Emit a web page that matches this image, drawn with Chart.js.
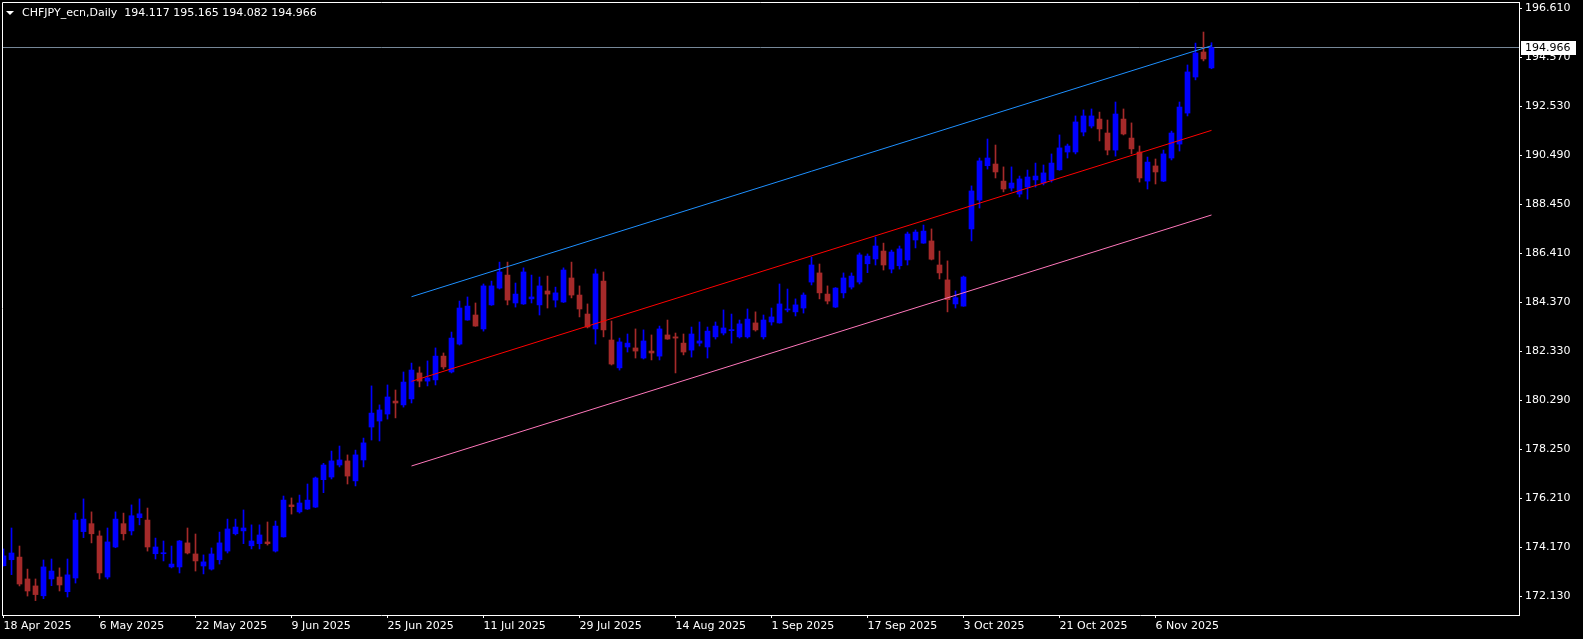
<!DOCTYPE html>
<html>
<head>
<meta charset="utf-8">
<script src="https://cdn.jsdelivr.net/npm/chart.js@4.4.1/dist/chart.umd.min.js"></script>
<style>
html, body { margin: 0; padding: 0; background: #000; overflow: hidden; }
canvas { display: block; }
</style>
</head>
<body>
<canvas id="chart" width="1583" height="639"></canvas>
<script>
// CHFJPY daily candles, 18 Apr 2025 .. 17 Nov 2025 (one entry per trading day)
const symbolTitle = 'CHFJPY_ecn,Daily';
const opens = [
  173.41, 173.66, 173.77, 172.86, 172.57, 172.16, 172.86, 172.94, 172.33, 172.90,
  174.83, 175.16, 174.65, 172.94, 174.19, 175.16, 174.86, 175.41, 175.31, 173.91,
  173.91, 173.36, 173.36, 174.36, 173.90, 173.40, 173.27, 173.66, 174.02, 174.74,
  174.86, 174.24, 174.33, 174.40, 174.02, 174.61, 175.94, 175.65, 175.77, 175.85,
  176.99, 177.10, 177.60, 177.77, 176.94, 177.81, 179.18, 179.43, 179.72, 180.26,
  180.10, 180.35, 181.43, 181.09, 181.14, 182.13, 181.47, 182.63, 183.63, 183.84,
  183.26, 184.26, 184.96, 185.50, 184.34, 184.30, 184.51, 184.26, 184.84, 184.46,
  184.38, 185.38, 184.67, 183.88, 183.26, 185.25, 182.80, 181.64, 182.51, 182.47,
  182.05, 182.34, 182.13, 183.01, 182.93, 182.67, 182.38, 182.67, 182.51, 182.93,
  183.09, 183.19, 182.93, 182.93, 183.51, 182.93, 183.55, 183.51, 184.05, 183.97,
  184.13, 185.21, 185.59, 184.71, 184.17, 184.76, 185.00, 185.21, 185.97, 186.17,
  186.50, 185.75, 185.89, 186.13, 186.96, 186.83, 186.92, 185.92, 185.30, 184.30,
  184.21, 187.42, 188.62, 190.05, 190.12, 189.41, 189.12, 188.87, 189.16, 189.46,
  189.33, 189.46, 189.88, 190.62, 190.62, 191.45, 191.70, 191.99, 191.41, 190.70,
  191.99, 191.20, 190.62, 189.41, 190.04, 189.41, 190.37, 190.95, 192.24, 193.74,
  194.78, 194.117
];
const highs = [
  174.11, 174.98, 174.23, 173.27, 172.86, 173.65, 173.69, 173.32, 173.69, 175.60,
  176.19, 175.65, 174.86, 174.98, 175.65, 175.60, 175.94, 176.19, 175.81, 174.56,
  174.44, 174.23, 174.46, 174.98, 174.73, 173.86, 174.15, 174.81, 175.35, 175.35,
  175.73, 175.11, 175.11, 175.23, 175.27, 176.31, 176.23, 176.35, 176.81, 177.10,
  177.67, 178.18, 178.39, 178.02, 178.22, 178.72, 180.89, 180.10, 180.93, 180.72,
  181.47, 181.84, 181.68, 181.93, 182.47, 182.26, 183.13, 184.42, 184.59, 184.34,
  185.13, 185.25, 186.04, 186.04, 185.17, 185.80, 185.50, 185.42, 185.46, 185.00,
  185.80, 186.04, 185.05, 184.30, 185.75, 185.63, 183.59, 182.88, 183.05, 183.26,
  183.22, 183.01, 183.38, 183.63, 183.09, 183.05, 183.34, 183.55, 183.34, 183.55,
  184.05, 183.88, 183.63, 184.09, 183.97, 183.84, 184.13, 185.13, 184.92, 184.51,
  184.76, 186.25, 185.96, 185.05, 184.98, 185.59, 185.59, 186.42, 186.38, 187.08,
  186.83, 186.54, 186.71, 187.29, 187.38, 187.58, 187.42, 186.50, 186.09, 184.84,
  185.46, 189.21, 190.37, 191.16, 190.91, 190.00, 190.00, 189.62, 189.87, 190.16,
  190.08, 190.54, 191.33, 190.95, 192.12, 192.37, 192.41, 192.28, 191.95, 192.70,
  192.41, 191.83, 190.87, 190.41, 190.33, 190.70, 191.49, 192.70, 194.24, 195.15,
  195.61, 195.165
];
const lows = [
  173.40, 173.04, 172.57, 172.15, 171.96, 172.04, 172.58, 172.36, 172.11, 172.69,
  174.58, 174.36, 172.86, 172.86, 174.16, 174.48, 174.69, 175.11, 174.02, 173.69,
  173.61, 173.32, 173.11, 173.90, 173.19, 173.07, 173.23, 173.48, 173.94, 174.69,
  174.33, 174.11, 174.11, 174.27, 173.98, 174.60, 175.56, 175.60, 175.75, 175.83,
  176.45, 177.02, 177.52, 176.81, 176.73, 177.52, 178.64, 178.60, 179.51, 179.56,
  180.01, 180.18, 180.85, 180.89, 180.93, 181.59, 181.43, 182.59, 183.62, 183.37,
  183.17, 184.24, 184.92, 184.26, 184.17, 184.28, 184.34, 183.84, 184.13, 184.17,
  184.36, 184.55, 183.76, 183.30, 182.63, 182.93, 181.76, 181.55, 182.30, 182.05,
  182.01, 181.97, 181.97, 182.83, 181.43, 182.18, 182.09, 182.55, 182.05, 182.84,
  183.01, 182.67, 182.88, 182.88, 183.17, 182.84, 183.42, 183.50, 183.97, 183.80,
  183.92, 185.09, 184.51, 184.30, 184.15, 184.55, 184.92, 185.13, 185.60, 185.92,
  185.71, 185.59, 185.75, 185.92, 186.63, 186.82, 186.13, 185.34, 183.97, 184.13,
  184.20, 186.92, 188.29, 189.91, 189.54, 188.96, 189.00, 188.75, 188.66, 189.16,
  189.25, 189.37, 189.86, 190.37, 190.54, 191.29, 191.62, 191.08, 190.50, 190.45,
  191.33, 190.54, 189.37, 189.08, 189.29, 189.39, 190.29, 190.66, 192.12, 193.62,
  194.41, 194.082
];
const closes = [
  173.82, 173.94, 172.65, 172.36, 172.21, 173.36, 173.19, 172.61, 173.03, 175.31,
  175.35, 174.74, 173.11, 174.40, 175.35, 174.74, 175.49, 175.57, 174.19, 174.19,
  173.94, 173.48, 174.44, 173.94, 173.61, 173.57, 173.90, 174.36, 174.94, 175.02,
  174.98, 174.44, 174.69, 174.33, 175.06, 176.14, 175.87, 176.02, 176.14, 177.06,
  177.60, 177.77, 177.81, 177.14, 178.02, 178.52, 179.76, 179.89, 180.43, 180.18,
  181.05, 181.55, 181.09, 181.22, 182.13, 181.68, 182.88, 184.13, 184.21, 183.38,
  185.05, 185.05, 185.63, 184.46, 184.71, 185.63, 184.59, 185.05, 184.71, 184.76,
  185.71, 184.67, 184.09, 183.34, 185.55, 183.22, 181.80, 182.72, 182.67, 182.34,
  182.76, 182.26, 183.26, 182.84, 182.88, 182.30, 183.05, 182.76, 183.17, 183.38,
  183.30, 183.22, 183.47, 183.67, 183.22, 183.63, 183.76, 184.30, 184.09, 184.26,
  184.67, 185.92, 184.76, 184.42, 184.96, 185.38, 185.46, 186.34, 186.29, 186.71,
  185.92, 186.46, 186.59, 187.21, 187.29, 187.33, 186.16, 185.59, 184.48, 184.56,
  185.42, 189.00, 190.25, 190.37, 189.79, 189.08, 189.33, 189.50, 189.58, 189.62,
  189.75, 190.16, 190.79, 190.87, 191.87, 192.12, 192.12, 191.58, 190.70, 192.20,
  191.37, 190.75, 189.54, 190.20, 189.79, 190.54, 191.41, 192.49, 193.95, 194.74,
  194.49, 194.966
];

// date labels, one every 12 bars starting at bar 0
const tickLabels = ['18 Apr 2025', '6 May 2025', '22 May 2025', '9 Jun 2025', '25 Jun 2025',
  '11 Jul 2025', '29 Jul 2025', '14 Aug 2025', '1 Sep 2025', '17 Sep 2025',
  '3 Oct 2025', '21 Oct 2025', '6 Nov 2025'];
const tickStep = 12;
const priceTicks = [172.13, 174.17, 176.21, 178.25, 180.29, 182.33, 184.37,
  186.41, 188.45, 190.49, 192.53, 194.57, 196.61];

// regression channel (start bar, end bar) and its three lines
const channelBars = [51, 151];
const channelUpper = [184.60, 195.04];
const channelMid = [181.08, 191.52];
const channelLower = [177.56, 188.00];

const lastPrice = closes[closes.length - 1];

const FONT = { family: 'DejaVu Sans', size: 11 };
const BULL = '#0000ff';
const BEAR = '#a52a2a';

// visible window in bar units (8 px per bar) and price range
const xMin = -0.1875, xMax = 189.4375;
const yMin = 171.361, yMax = 196.8596;

const idx = opens.map((_, i) => i);
const candleColors = idx.map(i => closes[i] >= opens[i] ? BULL : BEAR);

function channelLine(vals, color) {
  return {
    type: 'line',
    data: [{ x: channelBars[0], y: vals[0] }, { x: channelBars[1], y: vals[1] }],
    borderColor: color,
    borderWidth: 1,
    pointRadius: 0,
    tension: 0,
    fill: false,
    order: 0
  };
}

const framePlugin = {
  id: 'frame',
  afterDraw(chart) {
    const { ctx, chartArea: a } = chart;
    const yScale = chart.scales.y;
    ctx.save();
    ctx.strokeStyle = '#ffffff';
    ctx.lineWidth = 1;
    ctx.beginPath();
    ctx.moveTo(a.left + 0.5, a.bottom);
    ctx.lineTo(a.left + 0.5, a.top + 0.5);
    ctx.lineTo(a.right, a.top + 0.5);
    ctx.stroke();

    // title + values of the last bar
    ctx.fillStyle = '#ffffff';
    ctx.beginPath();
    ctx.moveTo(6, 11);
    ctx.lineTo(14, 11);
    ctx.lineTo(10, 15);
    ctx.closePath();
    ctx.fill();
    const n = opens.length - 1;
    ctx.font = '11px "DejaVu Sans"';
    ctx.textBaseline = 'middle';
    ctx.textAlign = 'left';
    ctx.fillText(symbolTitle + '  ' + [opens[n], highs[n], lows[n], closes[n]].map(v => v.toFixed(3)).join(' '), 22, 13);

    // current price tag on the price axis
    const py = Math.round(yScale.getPixelForValue(lastPrice));
    ctx.fillStyle = '#ffffff';
    ctx.fillRect(a.right + 2, py - 7, 55, 14);
    ctx.fillStyle = '#000000';
    ctx.fillText(lastPrice.toFixed(3), a.right + 6, py + 0.5);
    ctx.restore();
  }
};

new Chart(document.getElementById('chart'), {
  type: 'bar',
  data: {
    datasets: [
      channelLine(channelUpper, '#1e90ff'),
      channelLine(channelMid, '#ff0000'),
      channelLine(channelLower, '#ff77bb'),
      {
        type: 'bar',
        label: 'body',
        data: idx.map(i => ({ x: i, y: [opens[i], closes[i]] })),
        backgroundColor: candleColors,
        borderWidth: 0,
        barThickness: 5,
        maxBarThickness: 5,
        minBarLength: 1,
        grouped: false,
        order: 1
      },
      {
        type: 'bar',
        label: 'wick',
        data: idx.map(i => ({ x: i, y: [lows[i], highs[i]] })),
        backgroundColor: candleColors,
        borderWidth: 0,
        barThickness: 1,
        maxBarThickness: 1,
        grouped: false,
        order: 2
      },
      {
        type: 'line',
        label: 'bid',
        data: [{ x: xMin, y: lastPrice }, { x: xMax, y: lastPrice }],
        borderColor: '#778899',
        borderWidth: 1,
        pointRadius: 0,
        order: 3
      }
    ]
  },
  options: {
    responsive: false,
    animation: false,
    devicePixelRatio: 1,
    layout: { padding: { left: 2, top: 2, right: 0, bottom: 0 } },
    plugins: { legend: { display: false }, tooltip: { enabled: false } },
    scales: {
      x: {
        type: 'linear',
        min: xMin,
        max: xMax,
        offset: false,
        grid: { drawOnChartArea: false, drawTicks: true, tickLength: 3, color: '#ffffff', offset: false },
        border: { display: true, color: '#ffffff' },
        afterBuildTicks: s => { s.ticks = tickLabels.map((_, k) => ({ value: k * tickStep })); },
        afterFit: s => { s.height = 24; s.paddingLeft = 0; s.paddingRight = 0; },
        ticks: {
          autoSkip: false,
          maxRotation: 0,
          align: 'start',
          padding: 2,
          color: '#ffffff',
          font: FONT,
          callback: (v, k) => tickLabels[k]
        }
      },
      y: {
        type: 'linear',
        position: 'right',
        min: yMin,
        max: yMax,
        grid: { drawOnChartArea: false, drawTicks: true, tickLength: 3, color: '#ffffff' },
        border: { display: true, color: '#ffffff' },
        afterBuildTicks: s => { s.ticks = priceTicks.map(v => ({ value: v })); },
        afterFit: s => { s.width = 64; s.paddingTop = 0; s.paddingBottom = 0; },
        ticks: {
          padding: 3,
          color: '#ffffff',
          font: FONT,
          callback: v => v.toFixed(3)
        }
      }
    }
  },
  plugins: [framePlugin]
});
</script>
</body>
</html>
